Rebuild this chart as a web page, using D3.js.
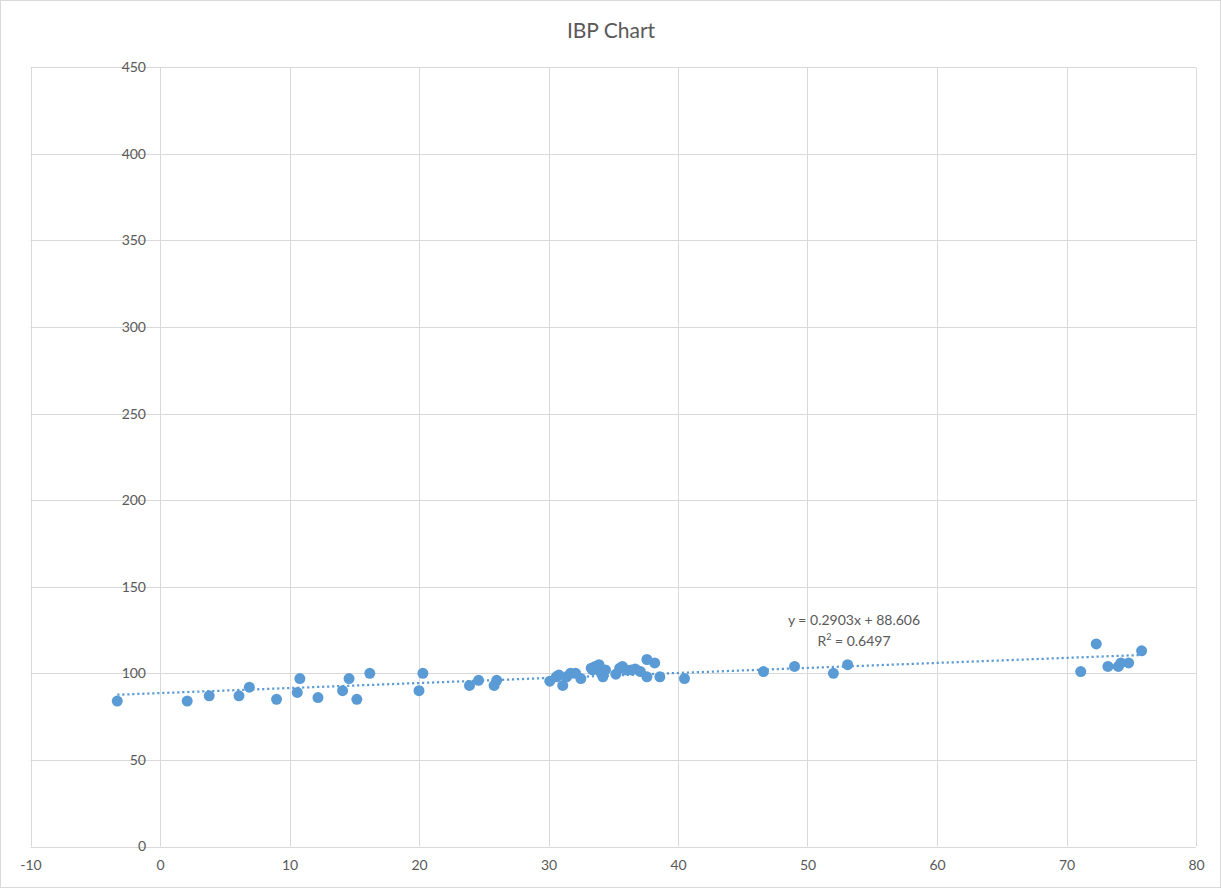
<!DOCTYPE html>
<html>
<head>
<meta charset="utf-8">
<script src="https://cdn.jsdelivr.net/npm/d3@7"></script>
<style>
  html, body { margin: 0; padding: 0; background: #fff; }
  svg { display: block; }
  text { font-family: Lato, "Open Sans", "Liberation Sans", sans-serif; fill: #595959; }
</style>
</head>
<body>
<svg id="chart" width="1221" height="889"></svg>
<script>
// Age (x) and IBP (y) readings
const xValues = [-3.3, 2.1, 3.8, 6.1, 6.9, 9.0, 10.6, 10.8, 12.2, 14.1, 14.6, 15.2, 16.2, 20.0, 20.3,
  23.9, 24.6, 25.8, 26.0, 30.1, 30.6, 30.8, 31.1, 31.4, 31.7, 32.1, 32.5, 33.3, 33.6, 33.9,
  33.4, 34.0, 34.2, 34.4, 35.2, 35.5, 35.7, 36.0, 36.4, 36.7, 37.1, 37.6, 37.6, 38.2, 38.6,
  40.5, 46.6, 49.0, 52.0, 53.1, 71.1, 72.3, 73.2, 74.0, 74.2, 74.8, 75.8];
const yValues = [84, 84, 87, 87, 92, 85, 89, 97, 86, 90, 97, 85, 100, 90, 100,
  93, 96, 93, 96, 95.5, 98, 99, 93, 98, 100, 100, 97, 103, 104, 105,
  102, 101, 98, 102, 99.5, 103, 104, 102, 102, 102.5, 101, 108, 98, 106, 98,
  97, 101, 104, 100, 105, 101, 117, 104, 104, 106, 106, 113];

// Linear trendline coefficients shown on the chart
const trendSlope = 0.2903;
const trendIntercept = 88.606;
const trendR2 = 0.6497;

const xTicks = [-10, 0, 10, 20, 30, 40, 50, 60, 70, 80];
const yTicks = [0, 50, 100, 150, 200, 250, 300, 350, 400, 450];

const svg = d3.select("#chart");
const W = 1221, H = 889;
const plot = { left: 30.5, right: 1196, top: 67.3, bottom: 846.5 };

// outer chart frame
svg.append("rect")
  .attr("x", 0.5).attr("y", 0.5)
  .attr("width", W - 1).attr("height", H - 2)
  .attr("fill", "#fff").attr("stroke", "#D9D9D9");

const x = d3.scaleLinear().domain([-10, 80]).range([plot.left, plot.right]);
const y = d3.scaleLinear().domain([0, 450]).range([plot.bottom, plot.top]);

// gridlines
svg.append("g").selectAll("line.v").data(xTicks).join("line")
  .attr("x1", d => Math.round(x(d)) + 0.5).attr("x2", d => Math.round(x(d)) + 0.5)
  .attr("y1", plot.top).attr("y2", plot.bottom)
  .attr("stroke", "#D9D9D9").attr("stroke-width", 1);
svg.append("g").selectAll("line.h").data(yTicks).join("line")
  .attr("x1", plot.left).attr("x2", plot.right)
  .attr("y1", d => Math.round(y(d)) + 0.5).attr("y2", d => Math.round(y(d)) + 0.5)
  .attr("stroke", "#D9D9D9").attr("stroke-width", 1);

const plainNumber = d => String(d);

// y axis labels sit beside the vertical axis at x = 0
const yAxis = d3.axisLeft(y).tickValues(yTicks).tickFormat(plainNumber).tickSize(0).tickPadding(14);
svg.append("g")
  .attr("transform", `translate(${x(0)},0)`)
  .call(yAxis)
  .call(g => g.select(".domain").remove())
  .call(g => g.selectAll("text").attr("font-size", 14).style("fill", "#595959")
    .attr("font-family", "Lato, 'Open Sans', sans-serif"));

// x axis labels below the plot
const xAxis = d3.axisBottom(x).tickValues(xTicks).tickFormat(plainNumber).tickSize(0).tickPadding(14);
svg.append("g")
  .attr("transform", `translate(0,${plot.bottom})`)
  .call(xAxis)
  .call(g => g.select(".domain").remove())
  .call(g => g.selectAll("text").attr("font-size", 14).style("fill", "#595959")
    .attr("font-family", "Lato, 'Open Sans', sans-serif"));

// dotted linear trendline across the data range
const xMin = d3.min(xValues), xMax = d3.max(xValues);
svg.append("line")
  .attr("x1", x(xMin)).attr("y1", y(trendSlope * xMin + trendIntercept))
  .attr("x2", x(xMax)).attr("y2", y(trendSlope * xMax + trendIntercept))
  .attr("stroke", "#5B9BD5").attr("stroke-width", 2.25)
  .attr("stroke-dasharray", "2.2,2.8");

// data points
const points = xValues.map((v, i) => ({ x: v, y: yValues[i] }));
svg.append("g").selectAll("circle").data(points).join("circle")
  .attr("cx", d => x(d.x)).attr("cy", d => y(d.y))
  .attr("r", 5.5)
  .attr("fill", "#5B9BD5");

// trendline equation
const eq = svg.append("text")
  .attr("x", 854).attr("y", 625)
  .attr("text-anchor", "middle").attr("font-size", 14);
eq.text(`y = ${trendSlope}x + ${trendIntercept}`);
const r2 = svg.append("text")
  .attr("x", 854).attr("y", 646)
  .attr("text-anchor", "middle").attr("font-size", 14);
r2.append("tspan").text("R");
r2.append("tspan").text("2").attr("font-size", 9).attr("dy", -6);
r2.append("tspan").text(` = ${trendR2}`).attr("dy", 6);

// title
svg.append("text")
  .attr("x", 611).attr("y", 38)
  .attr("text-anchor", "middle").attr("font-size", 21)
  .text("IBP Chart");
</script>
</body>
</html>
